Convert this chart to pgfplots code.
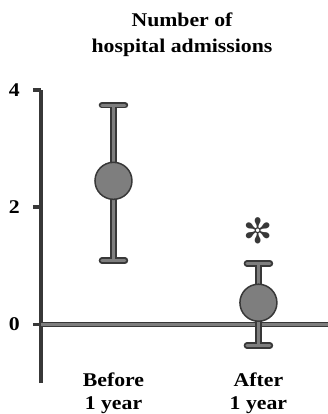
\documentclass[border=0pt]{standalone}
\usepackage{fontspec}
\setmainfont{Liberation Serif}[FakeStretch=1.12]
\newfontfamily\symfont{DejaVu Sans}
\usepackage{pgfplots}
\pgfplotsset{compat=1.18}
\definecolor{fillgray}{HTML}{7E7E7E}
\definecolor{edgegray}{HTML}{383838}
\begin{document}
\begin{tikzpicture}
\path[use as bounding box] (-41bp,-31bp) rectangle (287bp,383bp);
\begin{axis}[
  at={(0,0)}, anchor=south west,
  scale only axis, width=287bp, height=293bp,
  xmin=0.5, xmax=2.48, ymin=-1, ymax=4,
  clip=false,
  axis y line=left, axis x line=bottom,
  axis line style={-},
  y axis line style={line width=3.5bp, draw=edgegray},
  x axis line style={draw=none},
  ytick={0,2,4},
  yticklabels={0,2,4},
  ytick style={line width=3.5bp, draw=edgegray},
  tick align=outside,
  major tick length=8bp,
  yticklabel style={font=\bfseries\fontsize{19.5}{22}\selectfont, inner sep=0pt, anchor=east, xshift=-13bp},
  xtick={1,2},
  xticklabels={Before\\1 year, After\\1 year},
  xtick style={draw=none},
  xticklabel style={align=center, font=\bfseries\fontsize{19.5}{23}\selectfont, inner sep=0pt, anchor=north, yshift=18bp},
]
\draw[line width=5bp, edgegray] (axis cs:0.5,0) -- (axis cs:2.48,0);
\draw[line width=2.5bp, fillgray] (axis cs:0.5,0) -- (axis cs:2.48,0);
% dark outline layer of error bars
\addplot[draw=none, mark=none,
  error bars/.cd, y dir=both, y explicit, error mark=|,
  error bar style={draw=edgegray, line width=7bp},
  error mark options={draw=edgegray, line width=6.5bp, mark size=11.5bp, line cap=round}]
  coordinates {(1,2.45) += (0,1.29) -= (0,1.36) (2,0.37) += (0,0.67) -= (0,0.73)};
% light core layer and markers
\addplot[only marks, mark=*, mark size=18.5bp,
  mark options={fill=fillgray, draw=edgegray, line width=1.5bp},
  error bars/.cd, y dir=both, y explicit, error mark=|,
  error bar style={draw=fillgray, line width=3bp},
  error mark options={draw=fillgray, line width=3bp, mark size=11.5bp, line cap=round}]
  coordinates {(1,2.45) += (0,1.29) -= (0,1.36) (2,0.37) += (0,0.67) -= (0,0.73)};
\node[font=\symfont\fontsize{35}{35}\selectfont, text=edgegray] at (axis cs:2,1.6) {✼};
\end{axis}
\node[anchor=base, font=\bfseries\fontsize{19.5}{26}\selectfont] at (141bp,356bp) {Number of};
\node[anchor=base, font=\bfseries\fontsize{19.5}{26}\selectfont] at (141bp,330bp) {hospital admissions};
\end{tikzpicture}
\end{document}
